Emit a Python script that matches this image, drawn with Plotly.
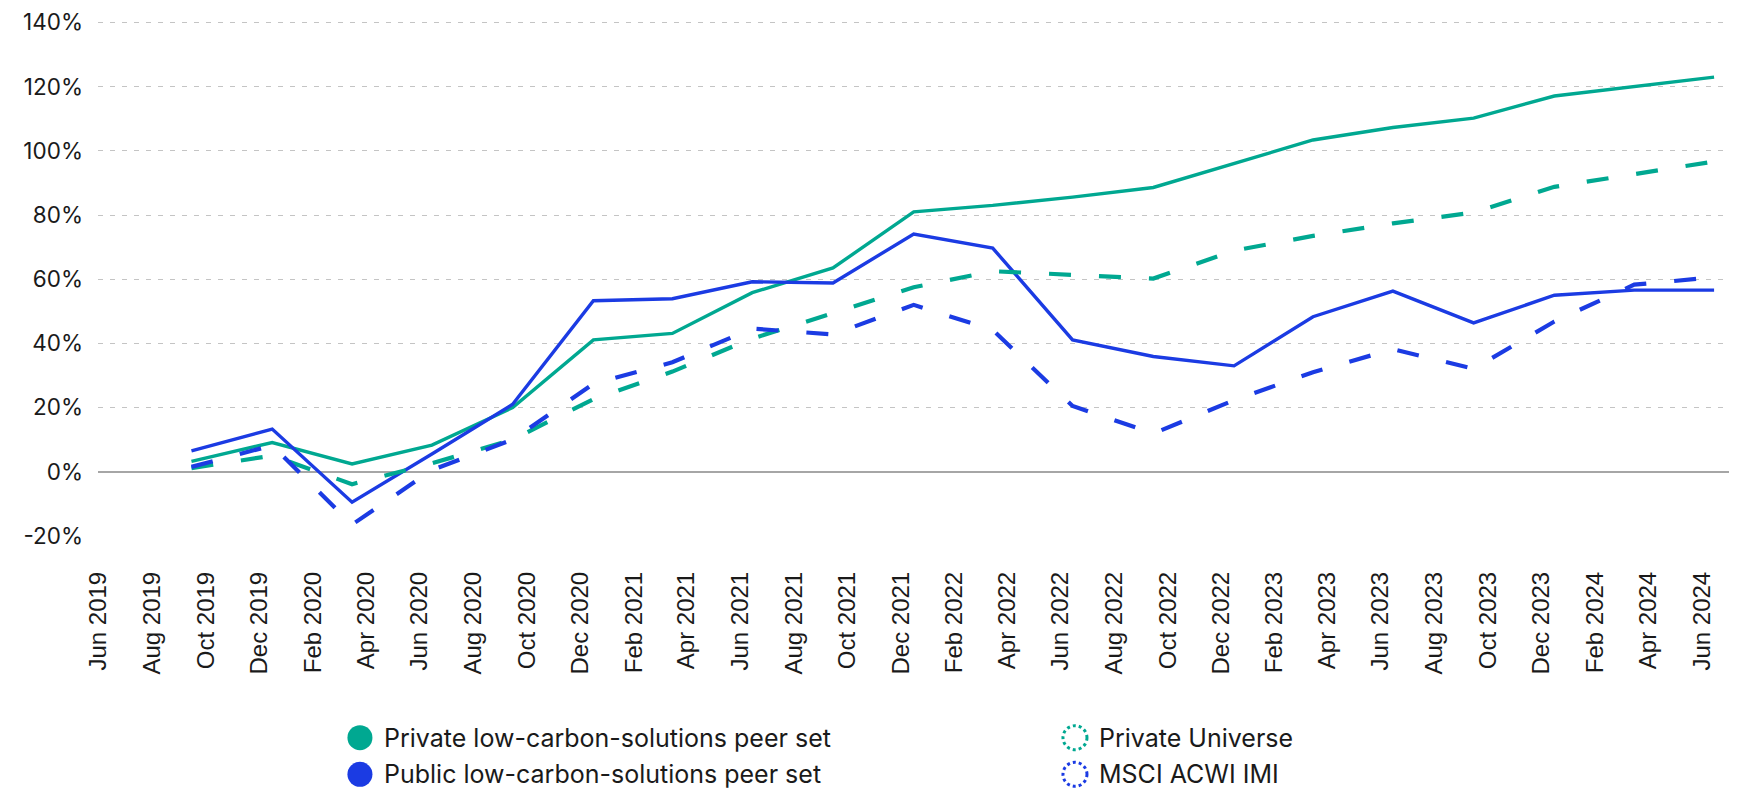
import pandas as pd
import plotly.graph_objects as go

# ---- data ----
dates = ["2019-09-30", "2019-12-31", "2020-03-31", "2020-06-30", "2020-09-30",
         "2020-12-31", "2021-03-31", "2021-06-30", "2021-09-30", "2021-12-31",
         "2022-03-31", "2022-06-30", "2022-09-30", "2022-12-31", "2023-03-31",
         "2023-06-30", "2023-09-30", "2023-12-31", "2024-03-31", "2024-06-30"]

private_peer = [3.2, 9.1, 2.4, 8.3, 20.0, 41.1, 43.1, 55.8, 63.5, 81.0,
                83.0, 85.6, 88.6, 96.2, 103.4, 107.3, 110.2, 117.1, 120.1, 123.0]
public_peer = [6.5, 13.3, -9.5, 5.5, 21.0, 53.3, 53.9, 59.2, 58.8, 74.1,
               69.7, 41.1, 35.9, 33.0, 48.3, 56.3, 46.4, 55.0, 56.6, 56.6]
private_universe = [1.1, 5.0, -3.9, 2.6, 10.0, 22.6, 31.2, 41.5, 49.4, 57.5,
                    62.5, 61.3, 60.2, 68.9, 73.5, 77.4, 80.8, 88.8, 92.6, 96.7]
msci_acwi_imi = [1.5, 8.2, -16.5, 0.5, 10.0, 27.4, 34.1, 44.6, 42.8, 52.0,
                 44.2, 20.5, 11.9, 22.3, 31.0, 38.2, 32.1, 46.8, 58.3, 60.6]

tick_labels = ["Jun 2019", "Aug 2019", "Oct 2019", "Dec 2019", "Feb 2020", "Apr 2020",
               "Jun 2020", "Aug 2020", "Oct 2020", "Dec 2020", "Feb 2021", "Apr 2021",
               "Jun 2021", "Aug 2021", "Oct 2021", "Dec 2021", "Feb 2022", "Apr 2022",
               "Jun 2022", "Aug 2022", "Oct 2022", "Dec 2022", "Feb 2023", "Apr 2023",
               "Jun 2023", "Aug 2023", "Oct 2023", "Dec 2023", "Feb 2024", "Apr 2024",
               "Jun 2024"]

y_ticks = [-20, 0, 20, 40, 60, 80, 100, 120, 140]
y_tick_labels = ["-20%", "0%", "20%", "40%", "60%", "80%", "100%", "120%", "140%"]

series_names = ["Private low-carbon-solutions peer set", "Public low-carbon-solutions peer set",
                "Private Universe", "MSCI ACWI IMI"]

GREEN = "#00A891"
BLUE = "#1B3BE3"

# tick positions: middle of each labelled month
tick_vals = []
for lab in tick_labels:
    start = pd.Timestamp(pd.to_datetime(lab, format="%b %Y"))
    mid = start + pd.Timedelta(days=start.days_in_month / 2)
    tick_vals.append(mid.strftime("%Y-%m-%d %H:%M"))

fig = go.Figure()
styles = [
    (private_peer, GREEN, "solid", 3.4),
    (public_peer, BLUE, "solid", 3.4),
    (private_universe, GREEN, "22px,28px", 4.2),
    (msci_acwi_imi, BLUE, "22px,28px", 4.2),
]
for name, (vals, col, dash, w) in zip(series_names, styles):
    fig.add_trace(go.Scatter(x=dates, y=vals, mode="lines", name=name, showlegend=False,
                             line=dict(color=col, width=w, dash=dash)))

# ---- layout geometry ----
FIG_W, FIG_H = 1733, 797
M_L, M_R, M_T, M_B = 90, 12, 12, 269
PLOT_H = FIG_H - M_T - M_B

# ---- custom legend (filled circles for peer sets, dotted rings for benchmarks) ----
legend_rows_px = [737.7 - 8, 774.3 - 8]  # row centres (figure px)
row_y = [(PLOT_H + M_T - y) / PLOT_H for y in legend_rows_px]
legend_items = [
    (series_names[0], GREEN, True, 0.1606, row_y[0]),
    (series_names[1], BLUE, True, 0.1606, row_y[1]),
    (series_names[2], GREEN, False, 0.599, row_y[0]),
    (series_names[3], BLUE, False, 0.599, row_y[1]),
]
shapes = []
annotations = []
for name, col, filled, px, py in legend_items:
    r = 12.5 if filled else 12
    shapes.append(dict(
        type="circle", xref="paper", yref="paper", xsizemode="pixel", ysizemode="pixel",
        xanchor=px, yanchor=py, x0=-r, x1=r, y0=-r, y1=r,
        fillcolor=col if filled else "rgba(0,0,0,0)",
        line=dict(color=col, width=0 if filled else 3, dash="solid" if filled else "dot"),
    ))
    annotations.append(dict(
        x=px, y=py, xref="paper", yref="paper", xanchor="left", yanchor="middle",
        xshift=22, text=name, showarrow=False,
        font=dict(family="Inter", size=25, color="#1a1a1a"),
    ))

fig.update_layout(
    width=FIG_W, height=FIG_H,
    margin=dict(l=M_L, r=M_R, t=M_T, b=M_B),
    paper_bgcolor="white", plot_bgcolor="white",
    shapes=shapes, annotations=annotations,
    xaxis=dict(
        type="date", range=["2019-06-15 12:00", "2024-07-17"], automargin=False,
        tickmode="array", tickvals=tick_vals, ticktext=tick_labels,
        tickangle=-90, showgrid=False, zeroline=False, showline=False, ticks="",
        tickfont=dict(family="Liberation Sans", size=24, color="#1a1a1a"),
        ticklabelstandoff=30,
    ),
    yaxis=dict(
        range=[-20.05, 140.8], automargin=False, tickmode="array",
        tickvals=y_ticks, ticktext=y_tick_labels,
        ticklabeloverflow="allow",
        showgrid=True, gridcolor="#c4c4c4", gridwidth=1, griddash="5px,7px",
        zeroline=True, zerolinecolor="#a6a6a6", zerolinewidth=1.5,
        showline=False, ticks="",
        tickfont=dict(family="Inter", size=22.5, color="#1a1a1a"),
        ticklabelstandoff=14,
    ),
)

fig.write_html("out.html")
